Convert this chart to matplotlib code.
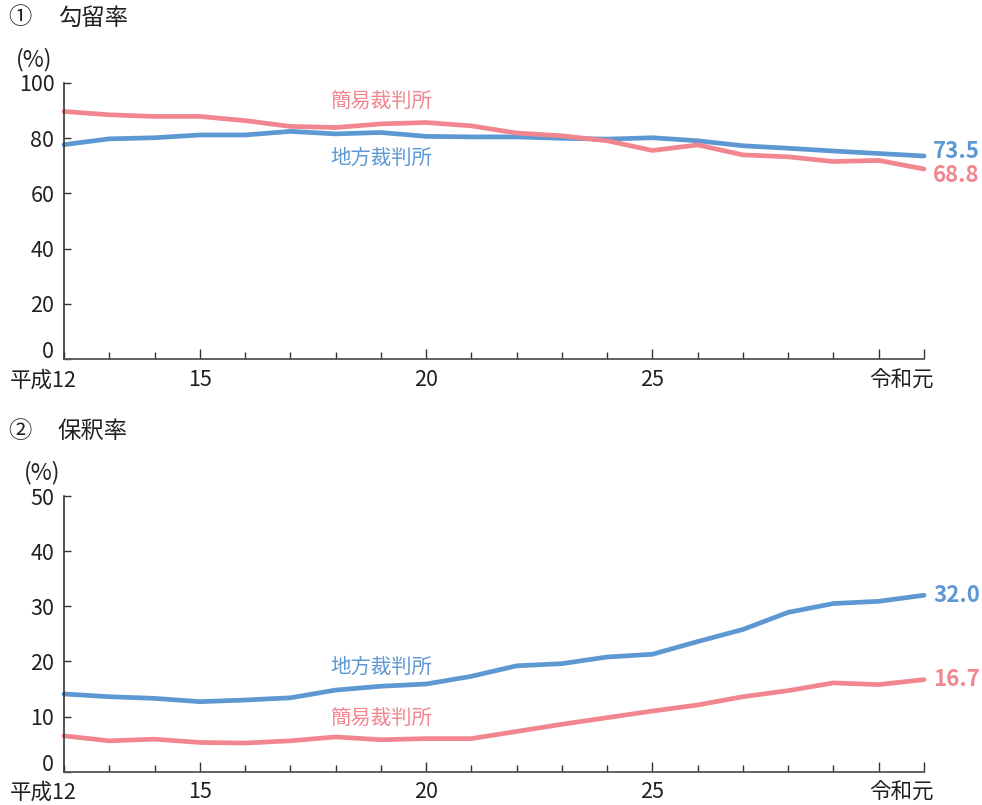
import matplotlib
matplotlib.use("Agg")
import matplotlib.pyplot as plt

plt.rcParams['font.family'] = ['Noto Sans CJK JP', 'DejaVu Sans']

# 平成12年 .. 令和元年 (= 平成31年)
years = list(range(12, 32))

# ① 勾留率 (%)
koryu_chiho = [77.6, 79.7, 80.1, 81.1, 81.1, 82.4, 81.5, 82.0, 80.6, 80.4,
               80.4, 79.9, 79.6, 80.1, 79.0, 77.2, 76.3, 75.3, 74.4, 73.5]
koryu_kani = [89.6, 88.4, 87.8, 87.8, 86.3, 84.2, 83.8, 85.1, 85.6, 84.4,
              81.8, 80.8, 79.0, 75.5, 77.5, 73.9, 73.2, 71.5, 71.9, 68.8]

# ② 保釈率 (%)
hoshaku_chiho = [14.1, 13.6, 13.3, 12.7, 13.0, 13.4, 14.8, 15.5, 15.9, 17.3,
                 19.2, 19.6, 20.8, 21.3, 23.6, 25.8, 28.9, 30.5, 30.9, 32.0]
hoshaku_kani = [6.5, 5.6, 5.9, 5.3, 5.2, 5.6, 6.3, 5.8, 6.0, 6.0,
                7.3, 8.6, 9.8, 11.0, 12.1, 13.6, 14.7, 16.1, 15.8, 16.7]

major_years = [15, 20, 25, 30, 31]
major_labels = ['15', '20', '25', '', '']
first_label = '平成12'
last_label = '令和元'

BLUE = '#5e98d3'
RED = '#f1868f'
TEXT = '#231f20'

W, H = 982, 805
fig = plt.figure(figsize=(W / 100, H / 100), dpi=100)


def make_axes(y_top_px, y_bot_px):
    return fig.add_axes([64 / W, 1 - y_bot_px / H, 860 / W, (y_bot_px - y_top_px) / H])


def style_axes(ax, ymax, ystep):
    ax.set_xlim(12, 31)
    ax.set_ylim(0, ymax)
    for s in ('top', 'right'):
        ax.spines[s].set_visible(False)
    ax.spines['left'].set_color('#333333')
    ax.spines['left'].set_linewidth(1.2)
    ax.spines['bottom'].set_color('#555555')
    ax.spines['bottom'].set_linewidth(1.3)

    ax.set_xticks(major_years)
    ax.set_xticklabels(major_labels)
    ax.set_xticks([y for y in years if y not in major_years], minor=True)
    ax.tick_params(axis='x', which='major', direction='in', length=7.5, width=1.0,
                   color='#333333', pad=7, labelsize=15.5, labelcolor=TEXT)
    ax.tick_params(axis='x', which='minor', direction='in', length=5, width=1.0,
                   color='#333333')

    yt = list(range(0, ymax + 1, ystep))
    ax.set_yticks(yt)
    ax.set_yticklabels([''] + [str(v) for v in yt[1:]])
    ax.tick_params(axis='y', direction='in', length=5, width=1.0, color='#333333',
                   pad=7, labelsize=15.5, labelcolor=TEXT)

    # zero label sits a little above the axis line
    ax.annotate('0', xy=(0, 0), xycoords=('axes fraction', 'data'),
                xytext=(-10, 7), textcoords='offset pixels',
                ha='right', va='center', fontsize=15.5, color=TEXT)
    # end labels of the era axis
    ax.annotate(first_label, xy=(12, 0), xycoords=('data', 'axes fraction'),
                xytext=(13, -10), textcoords='offset pixels',
                ha='right', va='top', fontsize=15.5, color=TEXT)
    ax.annotate(last_label, xy=(31, 0), xycoords=('data', 'axes fraction'),
                xytext=(10, -10), textcoords='offset pixels',
                ha='right', va='top', fontsize=15.5, color=TEXT)


def end_label(ax, x, y, text, color, dy):
    ax.annotate(text, xy=(x, y), xytext=(9, dy), textcoords='offset pixels',
                ha='left', va='center', fontsize=16, fontweight='bold',
                color=color, annotation_clip=False)


# ---- ① 勾留率 ----
ax1 = make_axes(82.7, 359.3)
style_axes(ax1, 100, 20)
ax1.plot(years, koryu_chiho, color=BLUE, lw=3.4, solid_capstyle='round',
         solid_joinstyle='round', clip_on=False)
ax1.plot(years, koryu_kani, color=RED, lw=3.4, solid_capstyle='round',
         solid_joinstyle='round', clip_on=False)
ax1.text(19.0, 92.7, '簡易裁判所', color=RED, fontsize=14.7, ha='center', va='center')
ax1.text(19.0, 72.8, '地方裁判所', color=BLUE, fontsize=14.7, ha='center', va='center')
end_label(ax1, years[-1], koryu_chiho[-1], f'{koryu_chiho[-1]:.1f}', BLUE, 4)
end_label(ax1, years[-1], koryu_kani[-1], f'{koryu_kani[-1]:.1f}', RED, -7)

# ---- ② 保釈率 ----
ax2 = make_axes(496, 771.7)
style_axes(ax2, 50, 10)
ax2.plot(years, hoshaku_chiho, color=BLUE, lw=3.4, solid_capstyle='round',
         solid_joinstyle='round', clip_on=False)
ax2.plot(years, hoshaku_kani, color=RED, lw=3.4, solid_capstyle='round',
         solid_joinstyle='round', clip_on=False)
ax2.text(19.0, 19.0, '地方裁判所', color=BLUE, fontsize=14.7, ha='center', va='center')
ax2.text(19.0, 9.5, '簡易裁判所', color=RED, fontsize=14.7, ha='center', va='center')
end_label(ax2, years[-1], hoshaku_chiho[-1], f'{hoshaku_chiho[-1]:.1f}', BLUE, 0)
end_label(ax2, years[-1], hoshaku_kani[-1], f'{hoshaku_kani[-1]:.1f}', RED, 0)

# panel titles and unit labels (pixel positions from the top-left corner)
def fig_text(x_px, y_px, s, size, ha='left'):
    fig.text(x_px / W, 1 - y_px / H, s, fontsize=size, color=TEXT, ha=ha, va='center')

fig_text(8, 18, '①', 16.8)
fig_text(58, 18, '勾留率', 16.8)
fig_text(8, 431, '②', 16.8)
fig_text(58, 431, '保釈率', 16.8)
fig_text(16, 60, '(%)', 16.5)
fig_text(24, 473, '(%)', 16.5)

fig.savefig('out.png', dpi=100)
